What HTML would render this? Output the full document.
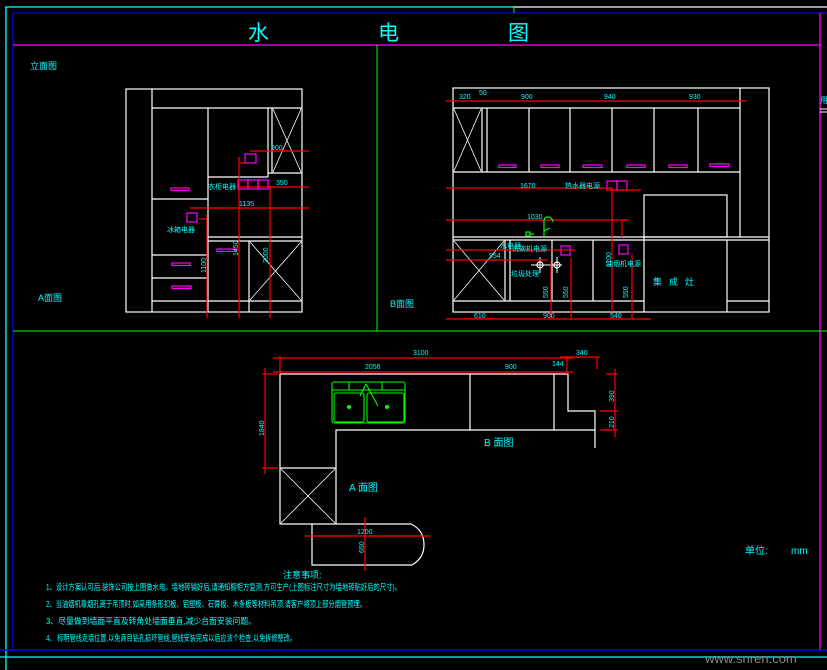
<!DOCTYPE html>
<html><head><meta charset="utf-8"><style>
html,body{margin:0;padding:0;background:#000;}
svg{display:block}
text{font-family:"Liberation Sans","Noto Sans CJK SC",sans-serif;fill:#00ffff;}
</style></head><body>
<svg width="827" height="670" viewBox="0 0 827 670" xmlns="http://www.w3.org/2000/svg">
<rect width="827" height="670" fill="#000"/>
<!-- frame -->
<line x1="5" y1="7" x2="513" y2="7" stroke="#00ffff" stroke-width="1.3"/>
<line x1="513" y1="7" x2="827" y2="7" stroke="#fff" stroke-width="1.3"/>
<line x1="6" y1="7" x2="6" y2="670" stroke="#00ffff" stroke-width="1.3"/>
<line x1="13" y1="13" x2="827" y2="13" stroke="#0000ff" stroke-width="1.3"/>
<line x1="13" y1="13" x2="13" y2="650" stroke="#0000ff" stroke-width="1.3"/>
<line x1="514" y1="7" x2="514" y2="13" stroke="#00ff00"/>
<line x1="13" y1="45" x2="820" y2="45" stroke="#ff00ff" stroke-width="1.3"/>
<line x1="820" y1="13" x2="820" y2="650" stroke="#ff00ff" stroke-width="1.3"/>
<line x1="377" y1="45" x2="377" y2="331" stroke="#00ff00"/>
<line x1="13" y1="331" x2="827" y2="331" stroke="#00ff00"/>
<line x1="0" y1="650" x2="827" y2="650" stroke="#0000ff" stroke-width="1.5"/>
<line x1="0" y1="657" x2="827" y2="657" stroke="#00ffff" stroke-width="1.2"/>
<text x="248" y="40" font-size="21">水</text>
<text x="378" y="40" font-size="21">电</text>
<text x="508" y="40" font-size="21">图</text>
<text x="30" y="69" font-size="9">立面图</text>
<text x="820" y="103" font-size="8">用</text>
<line x1="820" y1="109" x2="827" y2="109" stroke="#fff"/><line x1="820" y1="112" x2="827" y2="112" stroke="#fff"/>

<!-- A elevation -->
<g stroke="#fff" stroke-width="1.2" fill="none">
<rect x="126" y="89" width="176" height="223"/>
<line x1="152" y1="89" x2="152" y2="312"/>
<line x1="152" y1="108" x2="302" y2="108"/>
<line x1="208" y1="108" x2="208" y2="312"/>
<line x1="208" y1="177" x2="268" y2="177"/>
<line x1="268" y1="108" x2="268" y2="177"/>
<line x1="272" y1="108" x2="272" y2="173"/>
<line x1="268" y1="173" x2="302" y2="173"/>
<line x1="152" y1="199" x2="208" y2="199"/>
<line x1="152" y1="255" x2="208" y2="255"/>
<line x1="152" y1="278" x2="208" y2="278"/>
<line x1="152" y1="301" x2="302" y2="301"/>
<line x1="208" y1="237" x2="302" y2="237"/>
<line x1="208" y1="241" x2="302" y2="241"/>
<line x1="249" y1="241" x2="249" y2="312"/>
<path d="M273 109 L301 172 M301 109 L273 172" stroke-width="0.8"/>
<path d="M250 242 L301 300 M301 242 L250 300" stroke-width="0.8"/>
</g>
<g stroke="#ff00ff" fill="none" stroke-width="1.2">
<rect x="171" y="188" width="18" height="2.5"/>
<rect x="172" y="263" width="18" height="2.5"/>
<rect x="172" y="286" width="19" height="2.5"/>
<rect x="217" y="249" width="19" height="2.5"/>
<rect x="245" y="154" width="11" height="9"/>
<rect x="238" y="180" width="10" height="9"/><rect x="248" y="180" width="10" height="9"/><rect x="258" y="180" width="10" height="9"/>
<rect x="187" y="213" width="10" height="9"/>
</g>
<g stroke="#ff0000" stroke-width="1.2">
<line x1="190" y1="208" x2="309" y2="208"/>
<line x1="207" y1="215" x2="207" y2="318"/>
<line x1="239" y1="157" x2="239" y2="318"/>
<line x1="270" y1="185" x2="270" y2="318"/>
<line x1="250" y1="151" x2="309" y2="151"/>
<line x1="240" y1="187" x2="309" y2="187"/>
<line x1="199" y1="219" x2="207" y2="219"/>
<line x1="239" y1="163" x2="245" y2="163"/>
</g>
<g font-size="7">
<text x="271" y="150">900</text><text x="276" y="185">350</text><text x="239" y="206">1135</text>
<text x="208" y="189">衣柜电器</text><text x="167" y="232">冰箱电器</text>
<text transform="translate(238,256) rotate(-90)">1450</text>
<text transform="translate(268,263) rotate(-90)">2000</text>
<text transform="translate(206,273) rotate(-90)">1100</text>
</g>
<text x="38" y="301" font-size="9">A面图</text>

<!-- B elevation -->
<g stroke="#fff" stroke-width="1.2" fill="none">
<rect x="453" y="88" width="316" height="224"/>
<line x1="740" y1="88" x2="740" y2="237"/>
<line x1="453" y1="108" x2="740" y2="108"/>
<line x1="453" y1="172" x2="740" y2="172"/>
<line x1="482" y1="108" x2="482" y2="172"/><line x1="487" y1="108" x2="487" y2="172"/>
<line x1="529" y1="108" x2="529" y2="172"/><line x1="570" y1="108" x2="570" y2="172"/>
<line x1="612" y1="108" x2="612" y2="172"/><line x1="654" y1="108" x2="654" y2="172"/>
<line x1="698" y1="108" x2="698" y2="172"/>
<path d="M454 109 L481 171 M481 109 L454 171" stroke-width="0.8"/>
<line x1="453" y1="237" x2="769" y2="237"/>
<line x1="453" y1="240" x2="769" y2="240"/>
<rect x="644" y="195" width="83" height="42"/>
<line x1="644" y1="237" x2="644" y2="312"/>
<line x1="727" y1="240" x2="727" y2="312"/>
<line x1="505" y1="240" x2="505" y2="301"/><line x1="510" y1="240" x2="510" y2="301"/>
<line x1="552" y1="240" x2="552" y2="301"/><line x1="593" y1="240" x2="593" y2="301"/>
<line x1="453" y1="301" x2="644" y2="301"/>
<line x1="727" y1="301" x2="769" y2="301"/>
<path d="M454 241 L504 300 M504 241 L454 300" stroke-width="0.8"/>
<path d="M531 265 H550 M540 257 V273 M545 265 H562 M557 257 V273" stroke-width="1"/>
<circle cx="540" cy="265" r="3"/><circle cx="557" cy="265" r="3"/>
</g>
<g stroke="#ff00ff" fill="none" stroke-width="1.2">
<rect x="499" y="165" width="17" height="2.5"/><rect x="541" y="165" width="18" height="2.5"/>
<rect x="583" y="165" width="19" height="2.5"/><rect x="627" y="165" width="18" height="2.5"/>
<rect x="669" y="165" width="18" height="2.5"/><rect x="710" y="164" width="19" height="2.5"/>
<rect x="607" y="181" width="10" height="9"/><rect x="617" y="181" width="10" height="9"/>
<rect x="561" y="246" width="9" height="9"/><rect x="619" y="245" width="9" height="9"/>
</g>
<g stroke="#ff0000" stroke-width="1.2">
<line x1="446" y1="101" x2="747" y2="101"/>
<line x1="446" y1="188" x2="612" y2="188"/>
<line x1="606" y1="190" x2="641" y2="190"/>
<line x1="446" y1="220" x2="629" y2="220"/>
<line x1="622" y1="220" x2="622" y2="237"/>
<line x1="446" y1="250" x2="575" y2="250"/>
<line x1="446" y1="260" x2="548" y2="260"/>
<line x1="612" y1="188" x2="612" y2="312"/>
<line x1="632" y1="254" x2="632" y2="318"/>
<line x1="571" y1="258" x2="571" y2="318"/>
<line x1="551" y1="260" x2="551" y2="318"/>
<line x1="446" y1="319" x2="651" y2="319"/>
</g>
<g stroke="#00ff00" stroke-width="1.2" fill="none">
<path d="M544 237 V221 Q544 217 548 217 Q552 217 553 222"/>
<path d="M544 231 L550 228"/>
<rect x="526" y="232" width="4" height="4"/><line x1="530" y1="234" x2="534" y2="234"/>
</g>
<g font-size="7">
<text x="459" y="99">320</text><text x="479" y="95">50</text><text x="521" y="99">900</text>
<text x="604" y="99">940</text><text x="689" y="99">930</text>
<text x="520" y="188">1670</text><text x="565" y="188">热水器电源</text>
<text x="527" y="219">1030</text><text x="500" y="248">水电器</text><text x="512" y="251">洗碗机电源</text>
<text x="489" y="258">954</text><text x="511" y="276">垃圾处理</text>
<text transform="translate(548,298) rotate(-90)">550</text>
<text transform="translate(568,298) rotate(-90)">550</text>
<text transform="translate(628,298) rotate(-90)">550</text>
<text transform="translate(611,267) rotate(-90)">1100</text>
<text x="606" y="266">油烟机电源</text>
<text x="474" y="318">610</text><text x="543" y="318">900</text><text x="610" y="318">540</text>
</g>
<text x="653" y="285" font-size="9" letter-spacing="7">集成灶</text>
<text x="390" y="307" font-size="9">B面图</text>

<!-- plan -->
<g stroke="#fff" stroke-width="1.2" fill="none">
<path d="M280 374 H568 V411 H595 V448"/>
<path d="M280 374 V524 H336 V430 H595"/>
<line x1="470" y1="374" x2="470" y2="430"/>
<line x1="554" y1="374" x2="554" y2="430"/>
<line x1="280" y1="468" x2="336" y2="468"/>
<path d="M281 469 L335 523 M335 469 L281 523" stroke-width="0.8"/>
<path d="M312 524 V565 H412 Q424 558 424 545 Q424 530 411 524 H336"/>
</g>
<g stroke="#00ff00" stroke-width="1.1" fill="none">
<rect x="332" y="382" width="73" height="41" rx="2"/>
<line x1="332" y1="390" x2="405" y2="390"/>
<line x1="349" y1="382" x2="349" y2="390"/><line x1="382" y1="382" x2="382" y2="390"/>
<rect x="334" y="393" width="30" height="29" rx="2"/>
<rect x="367" y="393" width="37" height="29" rx="2"/>
<path d="M366 384 L360 396 M366 384 L378 406"/>
</g>
<circle cx="349" cy="407" r="2" fill="#00ff00"/><circle cx="387" cy="407" r="2" fill="#00ff00"/>
<g stroke="#ff0000" stroke-width="1.2">
<line x1="273" y1="358" x2="573" y2="358"/>
<line x1="273" y1="372" x2="573" y2="372"/>
<line x1="280" y1="356" x2="280" y2="374"/>
<line x1="567" y1="356" x2="567" y2="374"/>
<line x1="560" y1="357" x2="600" y2="357"/>
<line x1="597" y1="357" x2="597" y2="369"/>
<line x1="265" y1="368" x2="265" y2="474"/>
<line x1="262" y1="374" x2="278" y2="374"/><line x1="262" y1="468" x2="278" y2="468"/>
<line x1="615" y1="369" x2="615" y2="437"/>
<line x1="606" y1="374" x2="618" y2="374"/><line x1="600" y1="411" x2="618" y2="411"/><line x1="600" y1="430" x2="618" y2="430"/>
<line x1="365" y1="517" x2="365" y2="571"/>
<line x1="305" y1="536" x2="430" y2="536"/>
</g>
<g font-size="7">
<text x="413" y="355">3100</text><text x="365" y="369">2056</text><text x="505" y="369">900</text>
<text x="552" y="366">144</text><text x="576" y="355">340</text>
<text transform="translate(264,436) rotate(-90)">1840</text>
<text transform="translate(614,402) rotate(-90)">390</text>
<text transform="translate(614,428) rotate(-90)">210</text>
<text x="357" y="534">1200</text>
<text transform="translate(364,553) rotate(-90)">650</text>
</g>
<text x="484" y="446" font-size="10">B 面图</text>
<text x="349" y="491" font-size="10">A 面图</text>

<!-- notes -->
<text x="283" y="578" font-size="9">注意事项:</text>
<g font-size="8.5">
<text x="46" y="590" textLength="355" lengthAdjust="spacingAndGlyphs">1、设计方案认可后,装饰公司按上图做水电。墙地砖铺好后,请通知橱柜方复测,方可生产(上图标注尺寸为墙地砖贴好后的尺寸)。</text>
<text x="46" y="607" textLength="320" lengthAdjust="spacingAndGlyphs">2、当油烟机靠烟孔离于吊顶时,如采用条形扣板、铝塑板、石膏板、木条板等材料吊顶,请客户将顶上部分烟管预埋。</text>
<text x="46" y="624" textLength="210" lengthAdjust="spacingAndGlyphs">3、尽量做到墙面平直及转角处墙面垂直,减少台面安装问题。</text>
<text x="46" y="641" textLength="250" lengthAdjust="spacingAndGlyphs">4、 标明管线走墙位置,以免商目钻孔损坏管线,管线安装完成以后应该个检查,以免拆修整改。</text>
</g>
<text x="745" y="554" font-size="10">单位:</text>
<text x="791" y="554" font-size="10">mm</text>
<text x="705" y="663" font-size="13" style="fill:#888">www.snren.com</text>
</svg>
</body></html>
